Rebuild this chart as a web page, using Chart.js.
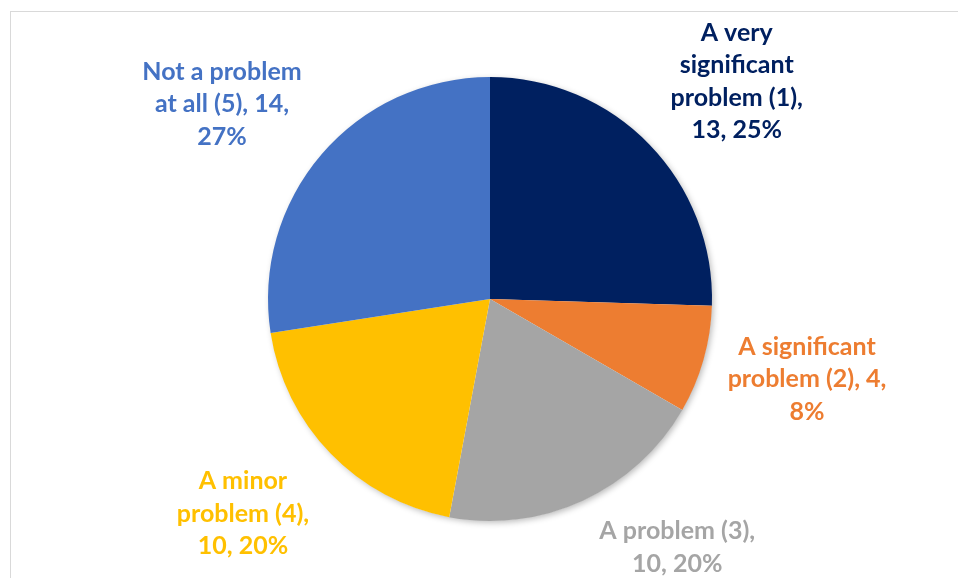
<!DOCTYPE html>
<html>
<head>
<meta charset="utf-8">
<script src="https://cdn.jsdelivr.net/npm/chart.js@4.4.1/dist/chart.umd.min.js"></script>
<style>
  html, body { margin: 0; padding: 0; background: #ffffff; }
  #wrap { width: 958px; height: 578px; position: relative; }
</style>
</head>
<body>
<div id="wrap"><canvas id="c"></canvas></div>
<script>
// ---- data ----
const categories = [
  "A very significant problem (1)",
  "A significant problem (2)",
  "A problem (3)",
  "A minor problem (4)",
  "Not a problem at all (5)"
];
const counts = [13, 4, 10, 10, 14];
const colors = ["#002060", "#ED7D31", "#A5A5A5", "#FFC000", "#4472C4"];

// label layout: [distance as factor of radius, angle nudge in degrees, wrap width px]
const labelLayout = [
  [1.482, 2.7, 145],
  [1.473, -1.7, 178],
  [1.401, -12.3, 178],
  [1.475, 3.1, 155],
  [1.492, -4.6, 176]
];

const FONT = "bold 25px Lato";
const LINE_H = 32.5;

function wrapText(ctx, text, maxW) {
  const words = text.split(" ");
  const lines = [];
  let cur = "";
  for (const w of words) {
    const test = cur ? cur + " " + w : w;
    if (cur && ctx.measureText(test).width > maxW) {
      lines.push(cur);
      cur = w;
    } else {
      cur = test;
    }
  }
  if (cur) lines.push(cur);
  return lines;
}

const frame = {
  id: "frame",
  beforeDraw(chart) {
    const ctx = chart.ctx;
    ctx.save();
    ctx.fillStyle = "#ffffff";
    ctx.fillRect(0, 0, chart.width, chart.height);
    ctx.strokeStyle = "#d9d9d9";
    ctx.lineWidth = 1;
    ctx.strokeRect(10.5, 11.5, 2000, 2000);
    ctx.restore();
  }
};

const shadow = {
  id: "pieShadow",
  beforeDatasetsDraw(chart) {
    const arc = chart.getDatasetMeta(0).data[0];
    if (!arc) return;
    const ctx = chart.ctx;
    ctx.save();
    ctx.shadowColor = "rgba(0,0,0,0.28)";
    ctx.shadowBlur = 6;
    ctx.shadowOffsetX = 2;
    ctx.shadowOffsetY = 2;
    ctx.fillStyle = "#ffffff";
    ctx.beginPath();
    ctx.arc(arc.x, arc.y, arc.outerRadius - 0.5, 0, Math.PI * 2);
    ctx.fill();
    ctx.restore();
  }
};

const labels = {
  id: "sliceLabels",
  afterDatasetsDraw(chart) {
    const ctx = chart.ctx;
    const meta = chart.getDatasetMeta(0);
    const data = chart.data.datasets[0].data;
    const total = data.reduce((a, b) => a + b, 0);
    ctx.save();
    ctx.font = FONT;
    ctx.textAlign = "center";
    ctx.textBaseline = "middle";
    meta.data.forEach((arc, i) => {
      const [f, nudge, maxW] = labelLayout[i];
      const mid = (arc.startAngle + arc.endAngle) / 2 + nudge * Math.PI / 180;
      const r = arc.outerRadius * f;
      const cx = arc.x + Math.cos(mid) * r;
      const cy = arc.y + Math.sin(mid) * r;
      const pct = Math.round(data[i] / total * 100);
      const text = chart.data.labels[i] + ", " + data[i] + ", " + pct + "%";
      const lines = wrapText(ctx, text, maxW);
      const y0 = cy - (lines.length - 1) * LINE_H / 2;
      ctx.fillStyle = colors[i];
      lines.forEach((ln, k) => ctx.fillText(ln, cx, y0 + k * LINE_H));
    });
    ctx.restore();
  }
};

new Chart(document.getElementById("c"), {
  type: "pie",
  data: {
    labels: categories,
    datasets: [{
      data: counts,
      backgroundColor: colors,
      borderWidth: 0,
      hoverOffset: 0
    }]
  },
  options: {
    responsive: true,
    maintainAspectRatio: false,
    animation: false,
    layout: { padding: { top: 77, bottom: 57, left: 268, right: 246 } },
    plugins: {
      legend: { display: false },
      tooltip: { enabled: false }
    }
  },
  plugins: [frame, shadow, labels]
});
</script>
</body>
</html>
